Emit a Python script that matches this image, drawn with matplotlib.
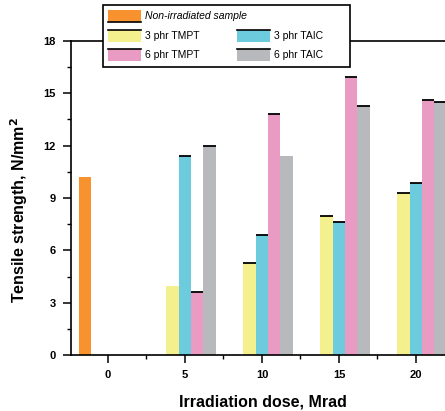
import matplotlib
matplotlib.use('Agg')
import matplotlib.pyplot as plt
from matplotlib.patches import Rectangle
from matplotlib.ticker import MultipleLocator

plt.rcParams['font.family'] = ['Liberation Sans', 'DejaVu Sans']

# data
doses = [5, 10, 15, 20]
ref_label = 'Non-irradiated sample'
ref_value = 10.2
series_labels = ['3 phr TMPT', '3 phr TAIC', '6 phr TMPT', '6 phr TAIC']
series_values = [
    [3.96, 5.26, 7.99, 9.31],    # yellow
    [11.4, 6.9, 7.65, 9.84],     # cyan
    [3.6, 13.84, 15.94, 14.62],  # pink
    [11.96, 11.43, 14.28, 14.49],  # grey
]
colors = ['#f5f08e', '#6ccbdc', '#ea9bc4', '#b8b9bd']
ref_color = '#f7922e'

W, H = 445, 411
fig = plt.figure(figsize=(W / 100, H / 100), dpi=100)

x0, x1 = -2.4, 23.0
px_per_unit = 15.4
ax_left, ax_top, ax_bot = 71, 41, 355
ax_w = (x1 - x0) * px_per_unit
ax_h = ax_bot - ax_top
ax = fig.add_axes([ax_left / W, (H - ax_bot) / H, ax_w / W, ax_h / H])

bw = 0.8
ax.bar(-1.5, ref_value, width=bw, color=ref_color, zorder=2)
for k, (vals, c) in enumerate(zip(series_values, colors)):
    xs = [d - 1.2 + bw / 2 + k * bw for d in doses]
    ax.bar(xs, vals, width=bw, color=c, zorder=2)
    # black top edge on each bar (two are missing in the original)
    for j, (x, v) in enumerate(zip(xs, vals)):
        if (k, j) in [(0, 0), (3, 1)]:
            continue
        ax.plot([x - bw / 2, x + bw / 2], [v, v], color='black', lw=1.3,
                solid_capstyle='butt', zorder=3)

ax.set_xlim(x0, x1)
ax.set_ylim(0, 18)
ax.set_xticks([0, 5, 10, 15, 20])
ax.xaxis.set_minor_locator(MultipleLocator(2.5))
ax.set_yticks(range(0, 19, 3))
ax.yaxis.set_minor_locator(MultipleLocator(1.5))
ax.tick_params(which='major', direction='out', length=6, width=1.1,
               labelsize=8, pad=5)
ax.tick_params(which='minor', direction='out', length=3, width=1.0)
for lab in ax.get_xticklabels() + ax.get_yticklabels():
    lab.set_fontweight('bold')
for s in ['left', 'bottom', 'top']:
    ax.spines[s].set_linewidth(1.2)
ax.spines['right'].set_visible(False)

ax.set_xlabel('Irradiation dose, Mrad', fontsize=11.5, fontweight='bold')
ax.set_ylabel('Tensile strength, N/mm$^\\mathbf{2}$', fontsize=11.5,
              fontweight='bold')
ax.xaxis.set_label_coords((263 - ax_left) / ax_w, (ax_bot - 402) / ax_h)
ax.yaxis.set_label_coords((19 - ax_left) / ax_w, (ax_bot - 210) / ax_h)
ax.xaxis.label.set_va('center')
ax.yaxis.label.set_va('center')


# hand-built legend box (pixel coords from the top-left)
def fx(px):
    return px / W


def fy(py):
    return 1 - py / H


box = Rectangle((fx(103), fy(67)), fx(350) - fx(103), fy(5) - fy(67),
                transform=fig.transFigure, facecolor='white', edgecolor='black',
                lw=1.2, zorder=10)
fig.add_artist(box)

entries = [(ref_label, ref_color, 108, 16, True)]
entries += [(series_labels[0], colors[0], 108, 36, False),
            (series_labels[2], colors[2], 108, 55, False),
            (series_labels[1], colors[1], 237, 36, False),
            (series_labels[3], colors[3], 237, 55, False)]
for label, c, px, py, ital in entries:
    fig.add_artist(Rectangle((fx(px), fy(py + 6)), fx(33), 12 / H,
                             transform=fig.transFigure, facecolor=c,
                             edgecolor='none', zorder=11))
    ly = fy(py + 6) if c == ref_color else fy(py - 6)
    fig.add_artist(plt.Line2D([fx(px), fx(px + 33)], [ly, ly],
                              transform=fig.transFigure, color='black', lw=1.2,
                              zorder=12))
    fig.text(fx(px + 37), fy(py), label, fontsize=7.5, va='center', ha='left',
             style='italic' if ital else 'normal', zorder=12)

fig.savefig('out.png', dpi=100)
